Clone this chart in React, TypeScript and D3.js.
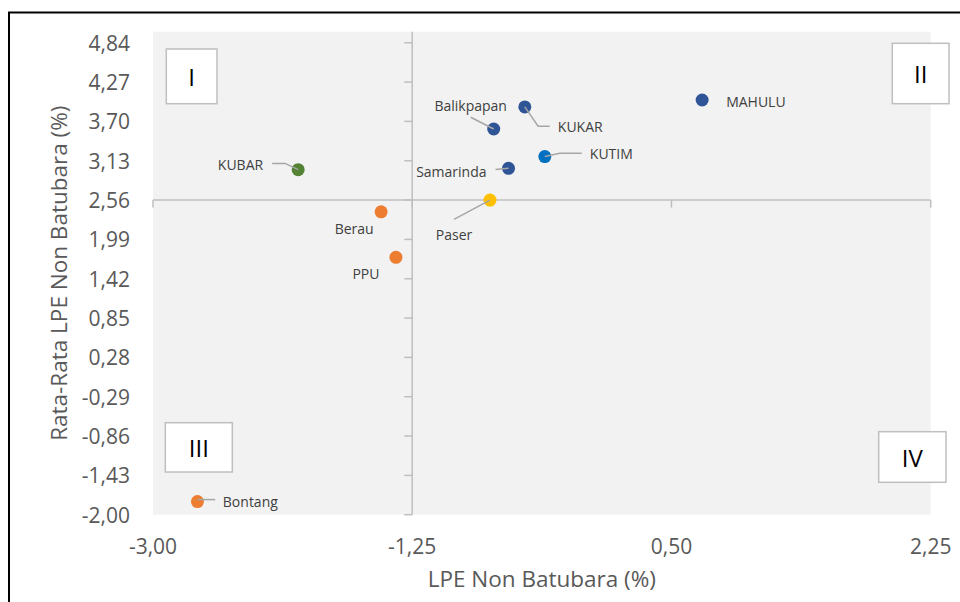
import React from "react";
import * as d3 from "d3";

const names = ["KUBAR", "Berau", "PPU", "Bontang", "Paser", "Balikpapan", "KUKAR", "Samarinda", "KUTIM", "MAHULU"];
const lpeX = [-2.02, -1.46, -1.36, -2.7, -0.725, -0.7, -0.49, -0.6, -0.355, 0.707];
const lpeY = [3.0, 2.39, 1.73, -1.81, 2.56, 3.59, 3.91, 3.02, 3.19, 4.01];
const pointColors = ["#548235", "#ED7D31", "#ED7D31", "#ED7D31", "#FFC000", "#2F5597", "#2F5597", "#2F5597", "#0070C0", "#2F5597"];

const xTickValues = [-3, -1.25, 0.5, 2.25];
const xTickLabels = ["-3,00", "-1,25", "0,50", "2,25"];
const yTickValues = [-2, -1.43, -0.86, -0.29, 0.28, 0.85, 1.42, 1.99, 2.56, 3.13, 3.7, 4.27, 4.84];
const yTickLabels = ["-2,00", "-1,43", "-0,86", "-0,29", "0,28", "0,85", "1,42", "1,99", "2,56", "3,13", "3,70", "4,27", "4,84"];

const xTitle = "LPE Non Batubara (%)";
const yTitle = "Rata-Rata LPE Non Batubara (%)";
const quadrantLabels = ["I", "II", "III", "IV"];

// layout (label placement relative to point, leader line paths)
const labelLayout: { dx: number; dy: number; anchor: string; leader?: [number, number][] }[] = [
  { dx: -35, dy: -5, anchor: "end", leader: [[-26, -6.3], [-13, -6.3], [0, 0]] },
  { dx: -27, dy: 16.3, anchor: "middle" },
  { dx: -30, dy: 16.3, anchor: "middle" },
  { dx: 25.4, dy: 0, anchor: "start", leader: [[0, -2], [17.7, -2]] },
  { dx: -36, dy: 34.3, anchor: "middle", leader: [[-36, 19.3], [0, 0]] },
  { dx: -23, dy: -23.7, anchor: "middle", leader: [[-23, -11.7], [0, 0]] },
  { dx: 33, dy: 20, anchor: "start", leader: [[0, 0], [13.3, 19.3], [25, 19.3]] },
  { dx: -22, dy: 3, anchor: "end", leader: [[-13, 1.3], [0, 0]] },
  { dx: 45, dy: -2.7, anchor: "start", leader: [[0, 0], [15, -3.4], [37, -3.4]] },
  { dx: 24, dy: 1, anchor: "start" },
];

const quadBoxes = [
  { x: 166.3, y: 49, w: 50.7, h: 54.7 },
  { x: 892.3, y: 43.3, w: 56.7, h: 60.4 },
  { x: 165.3, y: 422.7, w: 67, h: 49.3 },
  { x: 878.7, y: 431.7, w: 67.3, h: 50.6 },
];

export default function App() {
  const x = d3.scaleLinear().domain([-3, 2.25]).range([153, 930.7]);
  const y = d3.scaleLinear().domain([-2, 5]).range([514.7, 31.7]);
  const font = "'Open Sans', sans-serif";
  const axisColor = "#BFBFBF";
  const cx = x(-1.25);
  const cy = y(2.56);
  const line = d3.line();

  return (
    <svg width={960} height={602} style={{ position: "absolute", left: 0, top: 0, background: "#fff" }} fontFamily={font}>
      <rect x={x(-3)} y={y(5)} width={x(2.25) - x(-3)} height={y(-2) - y(5)} fill="#F2F2F2" />
      {/* axes */}
      <line x1={x(-3)} x2={x(2.25)} y1={cy} y2={cy} stroke={axisColor} strokeWidth={1.5} />
      {xTickValues.map((v) => (
        <line key={"xt" + v} x1={x(v)} x2={x(v)} y1={cy} y2={cy + 7.5} stroke={axisColor} strokeWidth={1.5} />
      ))}
      <line x1={cx} x2={cx} y1={y(5)} y2={y(-2)} stroke={axisColor} strokeWidth={1.5} />
      {yTickValues.map((v) => (
        <line key={"yt" + v} x1={cx - 8} x2={cx} y1={y(v)} y2={y(v)} stroke={axisColor} strokeWidth={1.5} />
      ))}
      {/* tick labels */}
      {xTickValues.map((v, i) => (
        <text key={"xl" + v} x={x(v)} y={546} textAnchor="middle" dominantBaseline="central" fontSize={21} fill="#595959">
          {xTickLabels[i]}
        </text>
      ))}
      {yTickValues.map((v, i) => (
        <text key={"yl" + v} x={130} y={y(v)} textAnchor="end" dominantBaseline="central" fontSize={21} fill="#595959">
          {yTickLabels[i]}
        </text>
      ))}
      {/* axis titles */}
      <text x={(x(-3) + x(2.25)) / 2} y={578} textAnchor="middle" dominantBaseline="central" fontSize={22.5} fill="#595959">
        {xTitle}
      </text>
      <text
        transform={`translate(58,${(y(5) + y(-2)) / 2}) rotate(-90)`}
        textAnchor="middle"
        dominantBaseline="central"
        fontSize={22.5}
        fill="#595959"
      >
        {yTitle}
      </text>
      {/* quadrant boxes */}
      {quadBoxes.map((b, i) => (
        <g key={"q" + i}>
          <rect x={b.x} y={b.y} width={b.w} height={b.h} fill="#fff" stroke="#BFBFBF" strokeWidth={1.5} />
          <text x={b.x + b.w / 2} y={b.y + b.h / 2} textAnchor="middle" dominantBaseline="central" fontSize={24} fill="#000">
            {quadrantLabels[i]}
          </text>
        </g>
      ))}
      {/* points */}
      {names.map((n, i) => (
        <circle key={"p" + n} cx={x(lpeX[i])} cy={y(lpeY[i])} r={6.5} fill={pointColors[i]} />
      ))}
      {/* leader lines */}
      {names.map((n, i) => {
        const L = labelLayout[i];
        if (!L.leader) return null;
        const px = x(lpeX[i]);
        const py = y(lpeY[i]);
        const pts = L.leader.map(([a, b]) => [px + a, py + b] as [number, number]);
        return <path key={"ld" + n} d={line(pts) || ""} fill="none" stroke="#A6A6A6" strokeWidth={1.5} />;
      })}
      {/* labels */}
      {names.map((n, i) => {
        const L = labelLayout[i];
        return (
          <text
            key={"lb" + n}
            x={x(lpeX[i]) + L.dx}
            y={y(lpeY[i]) + L.dy}
            textAnchor={L.anchor}
            dominantBaseline="central"
            fontSize={14}
            fill="#404040"
          >
            {n}
          </text>
        );
      })}
      {/* outer frame */}
      <rect x={9} y={12.5} width={1000} height={1000} fill="none" stroke="#000" strokeWidth={2} />
    </svg>
  );
}
